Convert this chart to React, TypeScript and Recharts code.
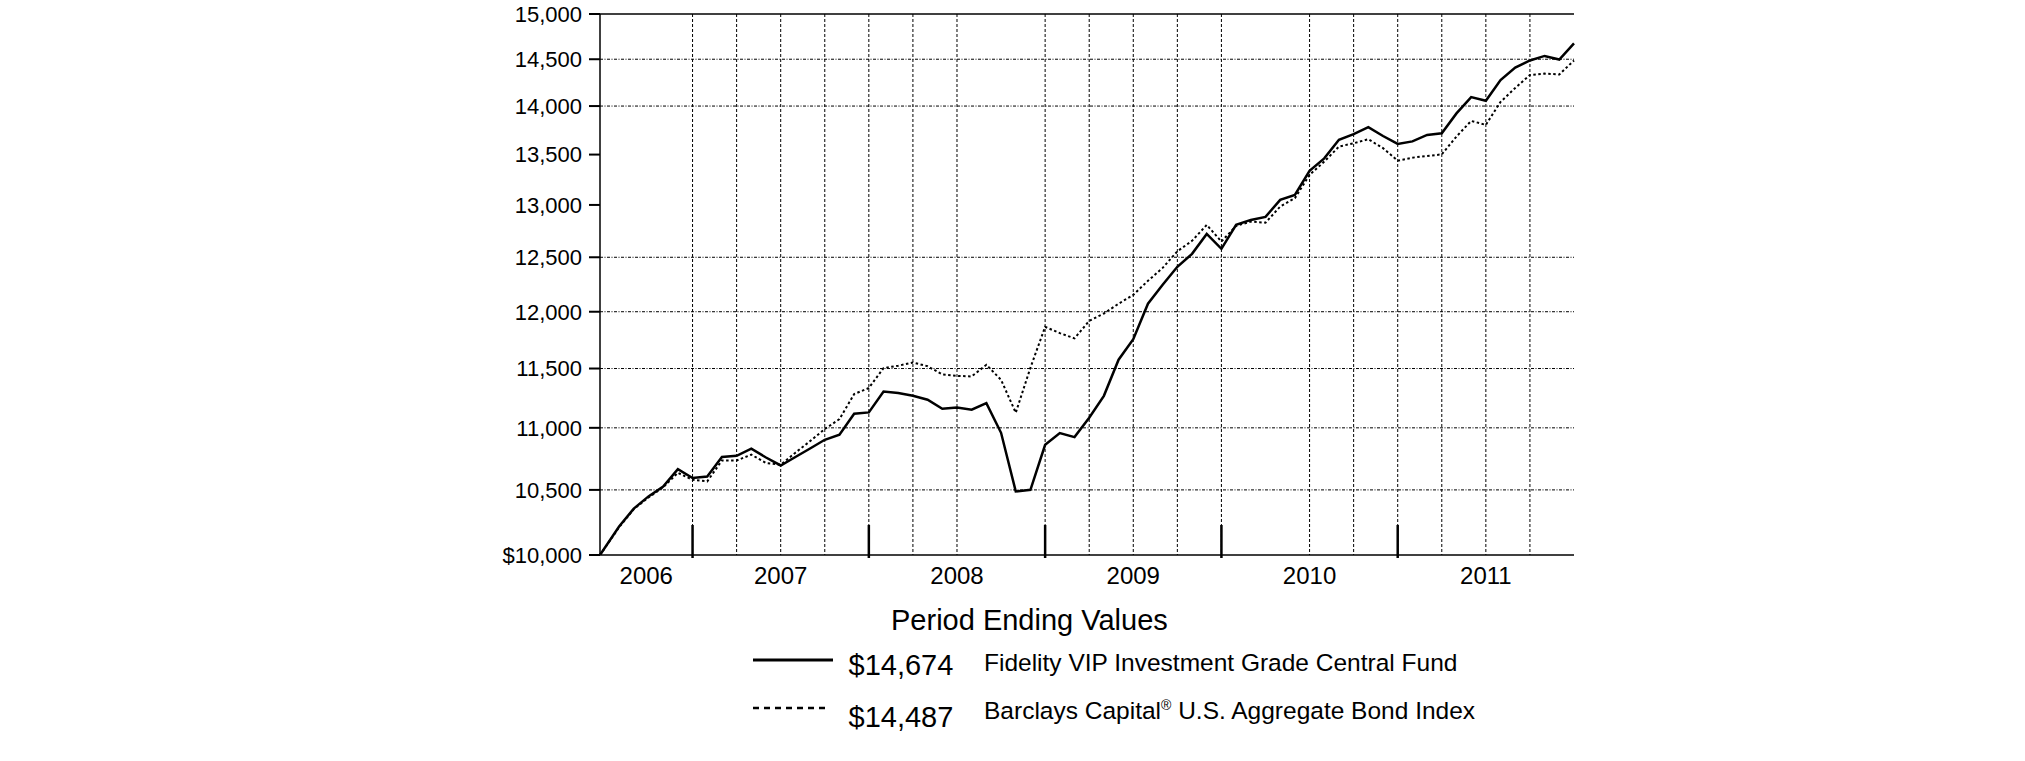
import React from 'react';
import { LineChart, Line, XAxis, YAxis, CartesianGrid, ReferenceLine } from 'recharts';

const FONT = '"Liberation Sans", Arial, Helvetica, sans-serif';

// Time axis (decimal years): inception point, then month-ends Jul 2006 .. Dec 2011
const startYear = 2006.475;
const endYear = 2012;
const monthCount = 66;

const fundValues = [
  10000,
  10216, 10354, 10449, 10527, 10665, 10594,
  10606, 10762, 10772, 10829, 10758, 10694, 10762, 10831, 10902, 10943, 11117, 11128,
  11304, 11290, 11267, 11234, 11158, 11169, 11150, 11206, 10959, 10488, 10501, 10861,
  10957, 10924, 11083, 11267, 11576, 11756, 12072, 12245, 12411, 12532, 12720, 12579,
  12807, 12855, 12884, 13049, 13098, 13337, 13462, 13650, 13708, 13780, 13689, 13608,
  13634, 13700, 13718, 13923, 14094, 14055, 14276, 14410, 14487, 14536, 14497, 14674,
];

const indexValues = [
  10000,
  10210, 10350, 10440, 10520, 10635, 10580,
  10567, 10734, 10734, 10781, 10713, 10700, 10797, 10891, 10990, 11072, 11282, 11333,
  11504, 11524, 11552, 11520, 11449, 11437, 11432, 11532, 11403, 11125, 11507, 11865,
  11809, 11763, 11918, 11984, 12072, 12153, 12281, 12401, 12556, 12655, 12807, 12648,
  12797, 12839, 12828, 12984, 13066, 13296, 13429, 13581, 13615, 13656, 13565, 13439,
  13469, 13486, 13502, 13684, 13845, 13804, 14044, 14191, 14330, 14345, 14335, 14487,
];

const seriesNames = [
  'Fidelity VIP Investment Grade Central Fund',
  'Barclays Capital® U.S. Aggregate Bond Index',
];

const yTicks = [10000, 10500, 11000, 11500, 12000, 12500, 13000, 13500, 14000, 14500, 15000];
const yGridValues = [10500, 11000, 11500, 12000, 12500, 14000, 14500];
const xGridValues = [
  2007, 2007.25, 2007.5, 2007.75, 2008, 2008.25, 2008.5,
  2009, 2009.25, 2009.5, 2009.75, 2010, 2010.5, 2010.75,
  2011, 2011.25, 2011.5, 2011.75,
];
const yearBoundaries = [2007, 2008, 2009, 2010, 2011];
const yearLabels = ['2006', '2007', '2008', '2009', '2010', '2011'];

const times = [startYear, ...Array.from({ length: monthCount }, (_, i) => 2006.5 + (i + 1) / 12)];
const data = times.map((t, i) => ({ t, fund: fundValues[i], index: indexValues[i] }));

const labelPositions = yearLabels.map((y) => {
  const yr = Number(y);
  return (Math.max(yr, startYear) + Math.min(yr + 1, endYear)) / 2;
});
const xTicks = [...yearBoundaries, ...labelPositions].sort((a, b) => a - b);

const fmtY = (v: number) => (v === 10000 ? '$10,000' : v.toLocaleString('en-US'));
const fmtMoney = (v: number) => '$' + v.toLocaleString('en-US');

const XTick = (props: any) => {
  const { x, y, payload } = props;
  const v = payload.value;
  if (Number.isInteger(v)) {
    return <line x1={x} x2={x} y1={y + 3} y2={y - 30} stroke="#000" strokeWidth={2.5} />;
  }
  return (
    <text x={x} y={y + 29} textAnchor="middle" fontSize={24} fill="#000" fontFamily={FONT}>
      {String(Math.floor(v))}
    </text>
  );
};

export default function App() {
  const fundEnd = fundValues[fundValues.length - 1];
  const indexEnd = indexValues[indexValues.length - 1];
  return (
    <div style={{ position: 'relative', width: 2025, height: 761, background: '#fff' }}>
      <style>{'body{margin:0;}'}</style>
      <LineChart
        width={2025}
        height={608}
        data={data}
        margin={{ top: 14, right: 451, left: 0, bottom: 0 }}
      >
        <CartesianGrid
          vertical={false}
          horizontalValues={yGridValues}
          stroke="#000"
          strokeWidth={1}
          strokeDasharray="3 1.5 1 1.5"
        />
        <CartesianGrid
          horizontal={false}
          verticalValues={xGridValues}
          stroke="#000"
          strokeWidth={1}
          strokeDasharray="3 2"
        />
        <XAxis
          dataKey="t"
          type="number"
          domain={[startYear, endYear]}
          ticks={xTicks}
          interval={0}
          tickSize={0}
          tickMargin={0}
          tickLine={false}
          height={53}
          axisLine={{ stroke: '#000', strokeWidth: 1.5 }}
          tick={(p: any) => <XTick {...p} />}
        />
        <YAxis
          type="number"
          scale="log"
          domain={[10000, 15000]}
          ticks={yTicks}
          interval={0}
          allowDataOverflow
          width={600}
          tickSize={11}
          tickMargin={7}
          tickFormatter={fmtY}
          tick={{ fontSize: 22, fill: '#000', fontFamily: FONT }}
          axisLine={{ stroke: '#000', strokeWidth: 1.5 }}
          tickLine={{ stroke: '#000', strokeWidth: 2 }}
        />
        <ReferenceLine y={15000} stroke="#000" strokeWidth={1.5} />
        <Line
          type="linear"
          dataKey="index"
          stroke="#000"
          strokeWidth={2}
          strokeDasharray="2.5 2.5"
          dot={false}
          isAnimationActive={false}
        />
        <Line
          type="linear"
          dataKey="fund"
          stroke="#000"
          strokeWidth={2.5}
          dot={false}
          isAnimationActive={false}
        />
      </LineChart>
      <svg
        width={2025}
        height={150}
        style={{ position: 'absolute', left: 0, top: 598 }}
        fontFamily={FONT}
      >
        <text x={891} y={31.5} fontSize={29} fill="#000">Period Ending Values</text>
        <line x1={753} x2={833} y1={62} y2={62} stroke="#000" strokeWidth={3} />
        <text x={848.5} y={76.5} fontSize={29} fill="#000">{fmtMoney(fundEnd)}</text>
        <text x={984} y={73} fontSize={24.5} fill="#000">{seriesNames[0]}</text>
        <line x1={753} x2={829} y1={110} y2={110} stroke="#000" strokeWidth={2.5} strokeDasharray="6 5" />
        <text x={848.5} y={129} fontSize={29} fill="#000">{fmtMoney(indexEnd)}</text>
        <text x={984} y={121} fontSize={24.5} fill="#000">
          {seriesNames[1].split('®')[0]}
          <tspan fontSize={14} dy={-9}>®</tspan>
          <tspan dy={9}>{seriesNames[1].split('®')[1]}</tspan>
        </text>
      </svg>
    </div>
  );
}
